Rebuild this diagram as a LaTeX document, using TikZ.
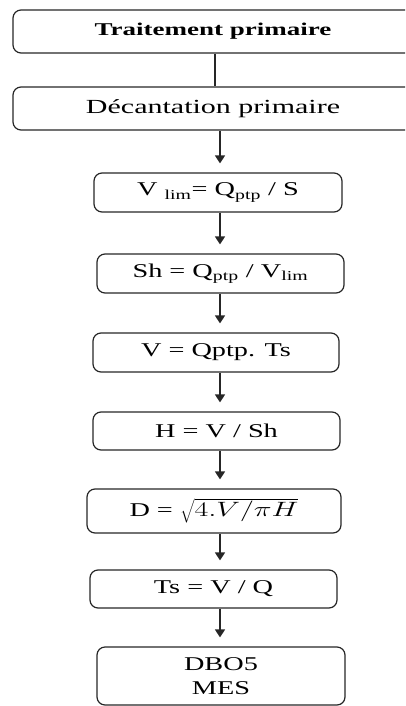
\documentclass[tikz,border=0pt]{standalone}
\usepackage{fontspec}
\setmainfont{Liberation Serif}
\usepackage{graphicx}
\usetikzlibrary{arrows.meta}
\newcommand{\stretchtxt}[1]{\scalebox{1.45}[1]{#1}}
\newcommand{\stretchhd}[1]{\scalebox{1.5}[1]{#1}}
\tikzset{
  box/.style={draw=black!85, line width=1.2pt, rounded corners=8pt, inner sep=0pt, font=\fontsize{19.5}{24}\selectfont},
  arr/.style={draw=black!85, line width=1.5pt, -{Triangle[width=10pt,length=8pt]}},
  ln/.style={draw=black!85, line width=1.5pt}
}
\begin{document}
\begin{tikzpicture}[x=1pt,y=1pt]
\useasboundingbox (0,0) rectangle (405,-706);
\clip (0,0) rectangle (405,-706);
\node[box, minimum width=400pt, minimum height=43pt, font=\fontsize{18}{22}\selectfont] (b1) at (213,-31.5) {\stretchhd{\textbf{Traitement primaire}}};
\node[box, minimum width=400pt, minimum height=43pt, font=\fontsize{20}{24}\selectfont] (b2) at (213,-108.5) {\stretchhd{Décantation primaire}};
\node[box, minimum width=248pt, minimum height=39pt] (b3) at (218,-192.5) {\stretchtxt{V \textsubscript{lim}= Q\textsubscript{ptp} / S}};
\node[box, minimum width=247pt, minimum height=39pt] (b4) at (220.5,-273.5) {\stretchtxt{Sh = Q\textsubscript{ptp} / V\textsubscript{lim}}};
\node[box, minimum width=246pt, minimum height=39pt] (b5) at (216,-352.5) {\stretchtxt{V = Qptp. Ts}};
\node[box, minimum width=247pt, minimum height=38pt] (b6) at (216.5,-431) {\stretchtxt{H = V / Sh}};
\node[box, minimum width=254pt, minimum height=44pt] (b7) at (214,-511) {\stretchtxt{D = $\sqrt{4.V/\pi H}$}};
\node[box, minimum width=247pt, minimum height=38pt] (b8) at (213.5,-589) {\stretchtxt{Ts = V / Q}};
\node[box, minimum width=248pt, minimum height=58pt, align=center] (b9) at (221,-676) {\stretchtxt{DBO5}\\\stretchtxt{MES}};
\coordinate (lx) at (215,0);
\coordinate (ax) at (220,0);
\draw[ln] (b1.south -| lx) -- (b2.north -| lx);
\foreach \a/\b in {b2/b3,b3/b4,b4/b5,b5/b6,b6/b7,b7/b8,b8/b9}{
  \draw[arr] (\a.south -| ax) -- ([yshift=9pt]\b.north -| ax);
}
\end{tikzpicture}
\end{document}
